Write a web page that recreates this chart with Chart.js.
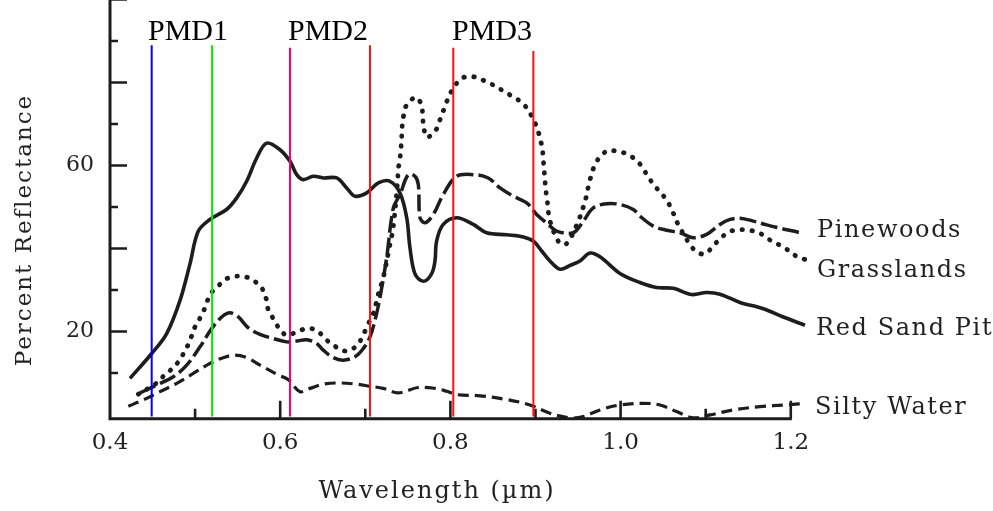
<!DOCTYPE html>
<html><head><meta charset="utf-8">
<style>html,body{margin:0;padding:0;background:#fff;}#wrap{width:993px;height:511px;}</style>
<script src="https://cdn.jsdelivr.net/npm/chart.js@4.4.1/dist/chart.umd.min.js"></script>
</head><body><div id="wrap"><canvas id="c" width="993" height="511"></canvas></div>
<script>
// ---------- data ----------
const xTickValues = [0.4, 0.6, 0.8, 1.0, 1.2];
const xTickLabels = ['0.4', '0.6', '0.8', '1.0', '1.2'];
const yTickValues = [20, 60];
const yTickLabels = ['20', '60'];
const xMajorMarks = [0.6, 0.8, 1.0, 1.2];
const xMinorMarks = [0.5, 0.7, 0.9, 1.1];
const yMajorMarks = [20, 40, 60, 80, 100];
const yMinorMarks = [10, 30, 50, 70, 90];

const seriesNames = ['Pinewoods', 'Grasslands', 'Red Sand Pit', 'Silty Water'];

const wlRedSand = [0.4235,0.449,0.4666,0.4823,0.494,0.5038,0.5175,0.537,0.5489,0.5606,0.5724,0.5841,0.5998,0.6115,0.6194,0.6271,0.6389,0.6506,0.6664,0.6781,0.6879,0.7016,0.7153,0.729,0.7408,0.7487,0.7525,0.7584,0.7682,0.7779,0.7819,0.7838,0.7916,0.8074,0.8269,0.8426,0.8661,0.8857,0.8974,0.9073,0.917,0.9288,0.9405,0.9523,0.964,0.9758,0.9993,1.0228,1.0423,1.0619,1.0835,1.1012,1.1168,1.1403,1.1677,1.1912,1.2167];
const redSand   = [8.7,14.7,19.5,27.5,36.3,44.2,47.0,49.4,52.2,56.2,61.8,65.4,63.8,61.0,57.8,56.6,57.4,57.0,57.0,54.6,52.6,53.4,55.8,56.2,53.4,47.4,40.2,33.9,32.1,33.9,37.0,41.8,45.8,47.4,45.8,43.8,43.3,42.8,41.8,39.4,37.0,35.0,35.9,37.0,38.9,38.0,34.0,31.8,30.6,30.4,28.9,29.4,29.0,27.0,25.5,23.5,21.5];

const wlPinewoods = [0.4353,0.4549,0.4744,0.4901,0.5058,0.5195,0.5313,0.541,0.5508,0.5625,0.5763,0.5919,0.6076,0.6194,0.6311,0.6428,0.6506,0.6624,0.6741,0.6879,0.6977,0.7055,0.7114,0.7173,0.7251,0.733,0.7408,0.7505,0.7584,0.7623,0.7643,0.7702,0.7799,0.7916,0.8074,0.8269,0.8444,0.8583,0.8739,0.8896,0.9014,0.915,0.9249,0.9444,0.9562,0.9679,0.9836,0.9993,1.0149,1.0228,1.0384,1.0542,1.0698,1.0854,1.1012,1.1168,1.1286,1.1403,1.1559,1.1717,1.1873,1.2029,1.2147];
const pinewoods   = [5.2,7.1,9.1,11.9,16.3,20.7,23.5,24.5,23.5,20.9,19.3,18.3,17.5,17.7,18.0,17.1,15.5,13.7,13.1,13.9,15.9,18.7,22.7,28.2,37.8,49.8,53.0,57.8,57.4,55.4,47.4,46.2,48.2,53.0,57.4,57.8,57.0,54.6,52.6,51.0,48.2,45.8,44.2,43.8,46.6,49.8,50.8,50.6,49.4,47.8,45.4,44.4,43.8,42.6,43.4,45.8,47.0,47.3,46.6,45.7,44.9,44.2,43.6];

const wlGrass = [0.4333,0.445,0.4541,0.4626,0.4717,0.4803,0.492,0.5011,0.5078,0.5128,0.5175,0.5254,0.537,0.548,0.5586,0.5677,0.5783,0.5841,0.586,0.5919,0.599,0.6076,0.6194,0.6311,0.6428,0.6526,0.6624,0.6762,0.6859,0.6958,0.7016,0.7094,0.7153,0.7211,0.729,0.7328,0.738,0.7387,0.7408,0.742,0.7428,0.7435,0.7455,0.7494,0.7604,0.7663,0.7675,0.769,0.7722,0.7819,0.7866,0.7905,0.7948,0.7995,0.8066,0.8152,0.8269,0.8379,0.8484,0.8603,0.87,0.881,0.8904,0.8966,0.902,0.9053,0.908,0.909,0.9103,0.9112,0.9123,0.9139,0.915,0.917,0.928,0.9366,0.9503,0.9593,0.962,0.9652,0.9691,0.9758,0.9855,0.9961,1.0072,1.0177,1.0248,1.0326,1.0404,1.0483,1.0561,1.0618,1.0667,1.0808,1.0894,1.0992,1.1088,1.1176,1.1277,1.1376,1.1511,1.1626,1.1735,1.1834,1.1939,1.2061,1.2175];
const grasslands = [4.9,6.3,7.5,9.2,10.8,12.7,16.9,21.7,23.9,26.4,28.9,30.6,32.7,33.3,33.2,32.4,30.5,27.5,25.2,23.1,20.7,19.1,19.9,20.7,20.3,18.3,16.7,15.3,15.9,18.3,21.1,24.3,29.0,33.0,41.0,45.0,56.2,59.0,61.8,64.5,67.0,69.8,72.5,74.9,76.4,74.2,71.4,68.9,66.8,68.2,70.4,72.5,74.9,77.2,79.6,81.2,81.4,80.6,79.6,78.2,77.0,75.6,73.7,71.4,69.0,66.5,64.2,61.8,58.6,56.2,53.8,51.4,49.0,46.6,41.4,41.2,46.6,52.2,54.8,57.4,59.8,62.1,63.6,63.4,62.8,61.4,59.8,57.2,55.0,53.2,51.0,48.6,46.2,41.2,39.2,38.7,40.6,42.5,44.0,44.5,44.4,43.8,42.3,41.2,40.0,38.2,37.3];

const wlSilty = [0.4215,0.4391,0.4588,0.4784,0.4979,0.5175,0.5331,0.5469,0.5606,0.5763,0.5959,0.6095,0.6233,0.635,0.6506,0.6703,0.6899,0.7055,0.7211,0.7384,0.7619,0.7819,0.7957,0.8074,0.8348,0.8662,0.8935,0.917,0.9405,0.9562,0.9758,0.9993,1.0267,1.0463,1.0658,1.0854,1.1051,1.1324,1.1638,1.1951,1.2167];
const siltyWater = [2.0,3.5,5.5,7.5,9.9,12.3,13.7,14.3,13.7,11.9,9.7,8.4,5.5,6.3,7.3,7.6,7.3,6.8,6.3,5.2,6.5,6.3,5.6,4.8,4.5,3.6,2.3,0.3,-0.8,-0.5,1.1,2.3,2.7,2.3,0.7,-0.8,-0.1,1.1,1.9,2.3,2.7];

const pmdNames = ['PMD1', 'PMD2', 'PMD3'];
const pmdEdges = [0.449, 0.520, 0.6115, 0.7055, 0.8034, 0.8975];
const pmdTops  = [89.0, 89.0, 88.4, 89.0, 88.4, 87.6];
const pmdBottom = -0.5;
const pmdColors = ['#0000ff', '#00ee00', '#f0006a', '#ff1010', '#ff1010', '#ff1010'];

// ---------- build ----------
const toXY = (xs, ys) => xs.map((x, i) => ({ x: x, y: ys[i] }));
const INK = '#1d1d1d';

const datasets = [];
pmdEdges.forEach((w, i) => {
  datasets.push({
    label: 'edge' + i,
    data: [{ x: w, y: pmdBottom }, { x: w, y: pmdTops[i] }],
    borderColor: pmdColors[i], borderWidth: 2, pointRadius: 0, tension: 0
  });
});
datasets.push({ label: seriesNames[0], data: toXY(wlPinewoods, pinewoods), borderColor: INK, borderWidth: 3.5, borderDash: [17, 5], pointRadius: 0, tension: 0.35 });
datasets.push({ label: seriesNames[1], data: toXY(wlGrass, grasslands), borderColor: INK, borderWidth: 4.8, borderDash: [0.5, 9.5], borderCapStyle: 'round', pointRadius: 0, tension: 0.35 });
datasets.push({ label: seriesNames[2], data: toXY(wlRedSand, redSand), borderColor: INK, borderWidth: 3.6, pointRadius: 0, tension: 0.35 });
datasets.push({ label: seriesNames[3], data: toXY(wlSilty, siltyWater), borderColor: INK, borderWidth: 3.2, borderDash: [11, 6], pointRadius: 0, tension: 0.35 });

const TEXT = '#222';

const decor = {
  id: 'decor',
  beforeDatasetsDraw(chart) {
    const ctx = chart.ctx, xs = chart.scales.x, ys = chart.scales.y;
    const x0 = xs.getPixelForValue(0.4), y0 = ys.getPixelForValue(-1);
    ctx.save();
    ctx.strokeStyle = INK; ctx.lineCap = 'butt';
    ctx.lineWidth = 3;
    ctx.beginPath();
    ctx.moveTo(x0, ys.getPixelForValue(100) - 1); ctx.lineTo(x0, y0 + 1.5);
    ctx.moveTo(x0 - 1.5, y0); ctx.lineTo(xs.getPixelForValue(1.2) + 1, y0);
    ctx.stroke();
    ctx.lineWidth = 2.6;
    ctx.beginPath();
    yMajorMarks.forEach(v => { const p = ys.getPixelForValue(v); ctx.moveTo(x0, p); ctx.lineTo(x0 + 17, p); });
    yMinorMarks.forEach(v => { const p = ys.getPixelForValue(v); ctx.moveTo(x0, p); ctx.lineTo(x0 + 8, p); });
    xMajorMarks.forEach(v => { const p = xs.getPixelForValue(v); ctx.moveTo(p, y0); ctx.lineTo(p, y0 - 18); });
    xMinorMarks.forEach(v => { const p = xs.getPixelForValue(v); ctx.moveTo(p, y0); ctx.lineTo(p, y0 - 10); });
    ctx.stroke();
    ctx.restore();
  },
  afterDraw(chart) {
    const ctx = chart.ctx;
    ctx.save();
    ctx.fillStyle = TEXT;
    ctx.textBaseline = 'alphabetic';
    ctx.letterSpacing = '2px';
    ctx.textAlign = 'center';
    ctx.font = '24px "DejaVu Serif"';
    ctx.fillText('Wavelength (\u00b5m)', 437, 498);
    ctx.save();
    ctx.font = '23px "DejaVu Serif"';
    ctx.translate(31, 230);
    ctx.rotate(-Math.PI / 2);
    ctx.fillText('Percent Reflectance', 0, 0);
    ctx.restore();
    ctx.textAlign = 'left';
    ctx.font = '24px "DejaVu Serif"';
    ctx.letterSpacing = '1.6px';
    const labelPos = [[817, 237], [817, 277], [816, 335], [815, 414]];
    seriesNames.forEach((n, i) => ctx.fillText(n, labelPos[i][0], labelPos[i][1]));
    ctx.letterSpacing = '0px';
    ctx.fillStyle = '#000';
    ctx.font = '30px "Liberation Serif"';
    const pmdLeft = [148, 288, 452];
    pmdNames.forEach((n, i) => ctx.fillText(n, pmdLeft[i], 40));
    ctx.restore();
  }
};

new Chart(document.getElementById('c'), {
  type: 'line',
  data: { datasets: datasets },
  plugins: [decor],
  options: {
    responsive: false, animation: false, devicePixelRatio: 1,
    layout: { padding: { left: 0, right: 185.2, top: 0, bottom: 0 } },
    plugins: { legend: { display: false }, tooltip: { enabled: false } },
    elements: { line: { fill: false } },
    scales: {
      x: {
        type: 'linear', min: 0.4, max: 1.22,
        afterBuildTicks: s => { s.ticks = xTickValues.map(v => ({ value: v })); },
        afterFit: s => { s.height = 92.35; s.paddingLeft = 0; s.paddingRight = 0; },
        grid: { display: false, drawTicks: false }, border: { display: false },
        ticks: {
          autoSkip: false, maxRotation: 0, padding: 11, color: TEXT,
          font: { family: 'DejaVu Serif', size: 23 },
          callback: v => { const i = xTickValues.findIndex(t => Math.abs(t - v) < 1e-6); return i >= 0 ? xTickLabels[i] : null; }
        }
      },
      y: {
        type: 'linear', min: -1, max: 99.88,
        afterBuildTicks: s => { s.ticks = yTickValues.map(v => ({ value: v })); },
        afterFit: s => { s.width = 110; s.paddingTop = 0; s.paddingBottom = 0; },
        grid: { display: false, drawTicks: false }, border: { display: false },
        ticks: {
          padding: 16, color: TEXT,
          font: { family: 'DejaVu Serif', size: 22 },
          callback: v => { const i = yTickValues.indexOf(v); return i >= 0 ? yTickLabels[i] : null; }
        }
      }
    }
  }
});
</script></body></html>
